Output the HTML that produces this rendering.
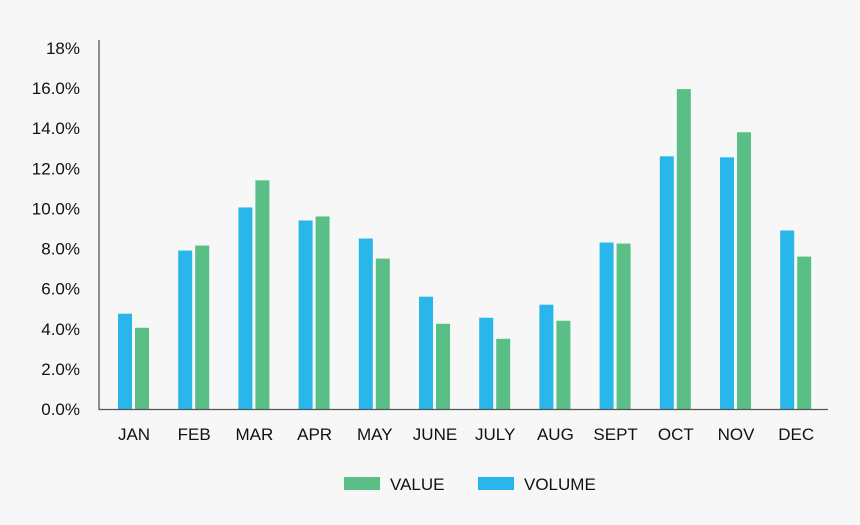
<!DOCTYPE html>
<html><head><meta charset="utf-8"><style>
html,body{margin:0;padding:0;background:#f7f7f7;}
svg{display:block;font-family:"Liberation Sans",sans-serif;}
</style></head><body>
<svg id="chart" width="860" height="525">
<rect width="860" height="525" fill="#f7f7f7"/>
<g id="bars"></g>
<g id="axes"></g>
</svg>
<script>
const categories=["JAN","FEB","MAR","APR","MAY","JUNE","JULY","AUG","SEPT","OCT","NOV","DEC"];
const volume=[4.75,7.9,10.05,9.4,8.5,5.6,4.55,5.2,8.3,12.6,12.55,8.9];
const value=[4.05,8.15,11.4,9.6,7.5,4.25,3.5,4.4,8.25,15.95,13.8,7.6];
const yTicks=[0,2,4,6,8,10,12,14,16,18];
const yLabels=["0.0%","2.0%","4.0%","6.0%","8.0%","10.0%","12.0%","14.0%","16.0%","18%"];
const NS="http://www.w3.org/2000/svg";
const bw=60.2,y0=409,yTop=48,yMax=18;
const y=v=>y0-(y0-yTop)*v/yMax;
const xc=i=>134+bw*i;
function mk(t,a,p){const e=document.createElementNS(NS,t);for(const k in a)e.setAttribute(k,a[k]);p.appendChild(e);return e;}
const bars=document.getElementById('bars'),axes=document.getElementById('axes');
categories.forEach((c,i)=>{
 const b=mk('rect',{x:xc(i)-16,y:y(volume[i]),width:14,height:y0-y(volume[i]),fill:'#29b6ea'},bars);
 
 
 const g=mk('rect',{x:xc(i)+1,y:y(value[i]),width:14,height:y0-y(value[i]),fill:'#59bf87'},bars);
 
 
 const t=mk('text',{x:xc(i),y:440,'text-anchor':'middle','font-size':17,fill:'#111'},axes);
 t.textContent=c;
 
 
});
yTicks.forEach((v,i)=>{
 const t=mk('text',{x:80,y:y(v)+6,'text-anchor':'end','font-size':17,fill:'#111'},axes);
 t.textContent=yLabels[i];
 
 
});
const ya=mk('line',{x1:99,y1:40,x2:99,y2:409.5,stroke:'#555','stroke-width':1.3},axes);


const xa=mk('line',{x1:98.5,y1:409.5,x2:828,y2:409.5,stroke:'#555','stroke-width':1.3},axes);


</script>
<svg style="position:absolute;left:0;top:0" width="860" height="525">
<g>
<rect x="344" y="477" width="36" height="13" fill="#59bf87"/>
<text x="390" y="490" font-size="17" fill="#111" font-family="Liberation Sans, sans-serif">VALUE</text></g>
<g>
<rect x="478" y="477" width="36" height="13" fill="#29b6ea"/>
<text x="524" y="490" font-size="17" fill="#111" font-family="Liberation Sans, sans-serif">VOLUME</text></g>
</svg>
</body></html>
